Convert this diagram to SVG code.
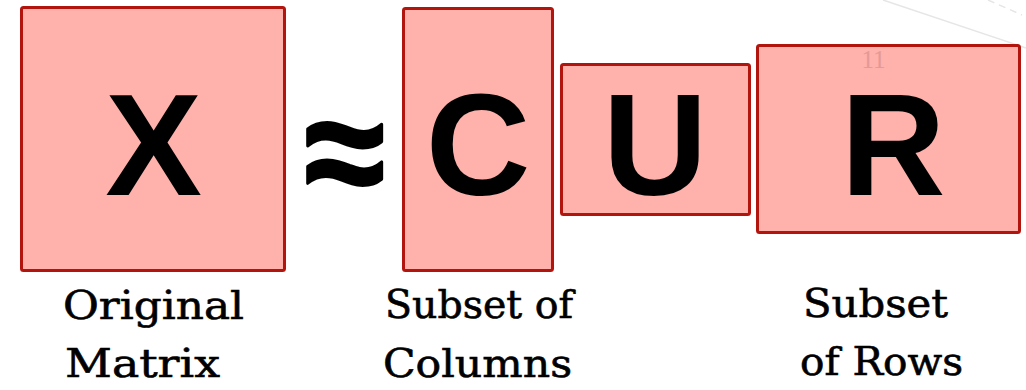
<svg xmlns="http://www.w3.org/2000/svg" width="1026" height="390" viewBox="0 0 1026 390">
<style>
.box{fill:#FFB1AC;stroke:#B2150E;stroke-width:3}
.big{font-family:"Liberation Sans",Arial,sans-serif;font-weight:bold;font-size:145px;fill:#000;text-anchor:middle}
.lbl{font-family:"DejaVu Serif","Liberation Serif",serif;font-size:39px;fill:#000;stroke:#000;stroke-width:0.6}
.deco{stroke:#E6E6E6;stroke-width:1.5;fill:none}
</style>
<rect width="1026" height="390" fill="#fff"/>
<g id="background">
<line class="deco" x1="883" y1="0" x2="1026" y2="48"/>
<line class="deco" x1="988" y1="0" x2="1022" y2="15" stroke-dasharray="7 5"/>
</g>
<g id="node-X">
<rect class="box" x="21.5" y="7.5" width="263" height="263" rx="2"/>
<text class="big" x="153.5" y="195">X</text>
</g>
<g id="approx">
<text x="0" y="53" font-family="Liberation Sans,Arial,sans-serif" font-weight="bold" font-size="146" text-anchor="middle" stroke="#000" stroke-width="3" stroke-linejoin="round" transform="translate(344.5,149) scale(1,1.1)">≈</text>
</g>
<g id="node-C">
<rect class="box" x="403.5" y="8.5" width="149" height="262" rx="2"/>
<text class="big" x="478" y="195">C</text>
</g>
<g id="node-U">
<rect class="box" x="561.5" y="64.5" width="188" height="150" rx="2"/>
<text class="big" x="655" y="195">U</text>
</g>
<g id="node-R">
<rect class="box" x="757.5" y="45.5" width="262" height="187" rx="2"/>
<text class="big" x="893" y="195">R</text>
</g>
<g id="page-number">
<text x="873.5" y="68" font-family="Liberation Serif,serif" font-size="25" fill="#E39A95" text-anchor="middle">11</text>
</g>
<g id="labels">
<text class="lbl" x="63" y="319" textLength="181" lengthAdjust="spacingAndGlyphs">Original</text>
<text class="lbl" x="65" y="377" textLength="155" lengthAdjust="spacingAndGlyphs">Matrix</text>
<text class="lbl" x="385" y="318" textLength="188" lengthAdjust="spacingAndGlyphs">Subset of</text>
<text class="lbl" x="383" y="377" textLength="189" lengthAdjust="spacingAndGlyphs">Columns</text>
<text class="lbl" x="803" y="317" textLength="145" lengthAdjust="spacingAndGlyphs">Subset</text>
<text class="lbl" x="800" y="375" textLength="163" lengthAdjust="spacingAndGlyphs">of Rows</text>
</g>
<g id="connectors"></g>
</svg>
